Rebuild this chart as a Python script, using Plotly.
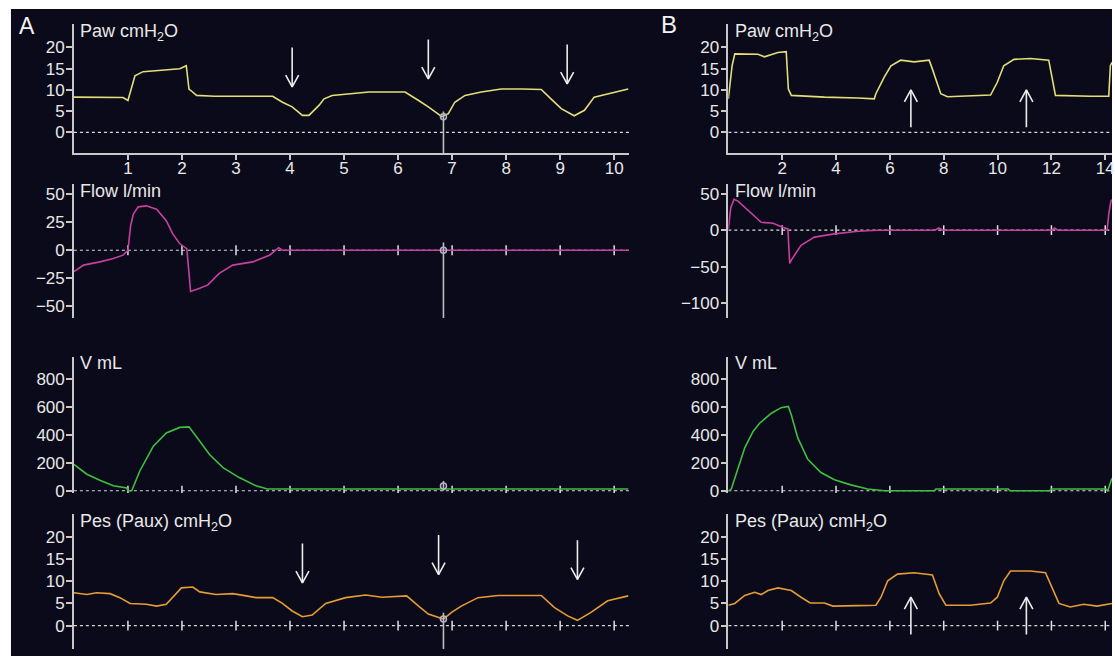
import plotly.graph_objects as go

# reference picture size (all pixel positions below are measured on it)
W, H = 1115, 664
BG = '#0b0a1a'
FG = '#e8e8e8'
AXC = '#c8c8c8'
FONT = 'Liberation Sans, Arial, Helvetica, sans-serif'

# ---------------- data (time in s) ----------------
A_XMAX = 10.28
B_XMAX = 14.25

pawA_t = [0, 0.91, 1.0, 1.07, 1.13, 1.28, 1.71, 1.96, 2.08, 2.13, 2.17, 2.27, 2.6, 3.0, 3.4, 3.68,
          3.86, 4.04, 4.23, 4.35, 4.54, 4.63, 4.78, 5.09, 5.46, 5.8, 6.13, 6.38, 6.56, 6.81, 6.93,
          7.05, 7.24, 7.54, 7.91, 8.3, 8.65, 8.83, 9.02, 9.26, 9.45, 9.63, 9.88, 10.26]
pawA_v = [8.3, 8.2, 7.5, 11.0, 13.3, 14.3, 14.7, 15.0, 15.7, 10.2, 9.8, 8.7, 8.5, 8.5, 8.5, 8.5,
          7.1, 6.0, 4.0, 4.0, 6.4, 7.9, 8.7, 9.1, 9.5, 9.5, 9.5, 7.5, 6.0, 3.7, 4.4,
          7.1, 8.7, 9.5, 10.2, 10.2, 10.1, 7.9, 5.6, 3.9, 5.2, 8.3, 9.1, 10.2]

flowA_t = [0, 0.18, 0.48, 0.73, 0.91, 1.0, 1.05, 1.10, 1.19, 1.34, 1.53, 1.71, 1.83, 1.96, 2.09,
           2.13, 2.16, 2.33, 2.48, 2.69, 2.94, 3.31, 3.62, 3.79, 3.86, 10.26]
flowA_v = [-19.2, -13.3, -10.4, -7.4, -4.4, 0, 22, 32.4, 38.9, 39.8, 36.8, 26.5, 14.7, 5.8, 1.4,
           -23.6, -36.9, -34, -31, -20.7, -13.3, -10.4, -4.4, 2.3, 0, 0]

vA_t = [0, 0.24, 0.48, 0.73, 0.98, 1.0, 1.07, 1.22, 1.47, 1.71, 1.96, 2.13, 2.33, 2.51, 2.76,
        3.06, 3.37, 3.58, 10.26]
vA_v = [188, 118, 75, 35, 19, 0, 0, 141, 318, 412, 452, 456, 353, 259, 165, 94, 35, 12, 12]

pesA_t = [0, 0.24, 0.42, 0.67, 0.85, 1.04, 1.34, 1.53, 1.71, 1.83, 1.99, 2.20, 2.33, 2.63, 2.94,
          3.19, 3.37, 3.68, 3.86, 4.04, 4.23, 4.41, 4.66, 5.03, 5.40, 5.70, 6.16, 6.38, 6.56,
          6.84, 6.99, 7.17, 7.48, 7.85, 8.40, 8.65, 8.89, 9.14, 9.32, 9.57, 9.88, 10.26]
pesA_v = [7.4, 7.0, 7.4, 7.2, 6.3, 5.0, 4.8, 4.4, 4.8, 6.3, 8.5, 8.7, 7.6, 7.0, 7.2,
          6.7, 6.3, 6.3, 5.0, 3.3, 2.0, 2.4, 5.0, 6.3, 6.9, 6.4, 6.7, 4.4, 2.6,
          1.5, 3.0, 4.4, 6.3, 6.8, 6.9, 6.8, 4.1, 2.2, 1.2, 3.0, 5.6, 6.7]

pawB_t = [0, 0.05, 0.14, 0.24, 1.10, 1.34, 1.84, 2.15, 2.23, 2.34, 3.57, 4.81, 5.42, 5.48, 5.79,
          6.04, 6.40, 6.90, 7.46, 7.58, 7.89, 8.14, 9.74, 9.99, 10.23, 10.61, 11.22, 11.90, 12.02,
          12.15, 13.44, 14.13, 14.19, 14.25]
pawB_v = [7.9, 11.0, 15.7, 18.5, 18.4, 17.8, 18.8, 19.0, 10.2, 8.7, 8.3, 8.1, 7.9, 9.1, 13.0,
          15.7, 17.0, 16.6, 17.0, 14.9, 9.1, 8.4, 8.8, 11.8, 15.7, 17.2, 17.4, 17.0, 13.3,
          8.7, 8.5, 8.5, 15.7, 16.5]

flowB_t = [0, 0.09, 0.21, 0.36, 1.22, 1.66, 2.02, 2.21, 2.28, 2.34, 2.70, 3.20, 3.94, 4.81, 5.55,
           7.67, 7.82, 7.97, 12.02, 12.12, 12.23, 14.07, 14.13, 14.21, 14.25]
flowB_v = [1.8, 31, 42.5, 40, 10.9, 9.5, 4.1, 1.8, -45.7, -41, -20.8, -9.5, -5, -1.4, 0,
           0, 3, 0, 0, 3, 0, 0, 22, 40, 42]

vB_t = [0, 0.02, 0.11, 0.36, 0.61, 0.92, 1.16, 1.60, 1.96, 2.23, 2.34, 2.58, 2.95, 3.44, 3.94,
        4.55, 5.17, 5.79, 7.65, 7.71, 10.40, 10.46, 11.94, 12.00, 14.03, 14.09, 14.19, 14.25]
vB_v = [0, 0, 12, 165, 306, 423, 482, 553, 593, 602, 541, 377, 224, 130, 78,
        42, 12, 0, 0, 12, 12, 0, 0, 12, 12, 0, 60, 90]

pesB_t = [0, 0.24, 0.61, 0.98, 1.22, 1.47, 1.84, 2.34, 2.70, 3.04, 3.57, 3.88, 4.81, 5.48, 5.67,
          5.92, 6.28, 6.90, 7.58, 7.83, 8.08, 8.99, 9.74, 9.99, 10.23, 10.48, 11.22, 11.78, 12.02,
          12.28, 12.70, 13.20, 13.69, 14.25]
pesB_v = [4.6, 5.0, 6.8, 7.5, 7.0, 7.9, 8.5, 7.9, 6.4, 5.1, 5.1, 4.4, 4.5, 4.6, 6.4,
          10.1, 11.6, 11.9, 11.4, 7.2, 4.6, 4.6, 5.1, 6.4, 10.1, 12.3, 12.3, 11.9, 8.6,
          5.0, 4.2, 4.8, 4.4, 5.0]

# tick values
xticksA = [1, 2, 3, 4, 5, 6, 7, 8, 9, 10]
xticksB = [2, 4, 6, 8, 10, 12, 14]
paw_ticks = [0, 5, 10, 15, 20]
flowA_ticks = [-50, -25, 0, 25, 50]
flowB_ticks = [-100, -50, 0, 50]
v_ticks = [0, 200, 400, 600, 800]
pes_ticks = [0, 5, 10, 15, 20]

# arrows: time, tail value, tip value
pawA_arrow_t = [4.04, 6.56, 9.13]
pawA_arrow_tail = [20.0, 21.9, 20.7]
pawA_arrow_tip = [10.7, 12.6, 11.4]
pesA_arrow_t = [4.23, 6.75, 9.32]
pesA_arrow_tail = [18.5, 20.4, 19.2]
pesA_arrow_tip = [9.6, 11.5, 10.4]
pawB_arrow_t = [6.78, 11.07]
pawB_arrow_tail = [1.2, 1.2]
pawB_arrow_tip = [10.0, 10.0]
pesB_arrow_t = [6.78, 11.07]
pesB_arrow_tail = [-2.0, -2.0]
pesB_arrow_tip = [6.4, 6.4]

# cursor at t = 6.84 in panel A
cursor_t = 6.84
trigger_t = [0.96, 3.75]

# ---------------- figure ----------------
def dx(a, b):
    return [a / W, min(1.0, b / W)]

def dy(top, bot):
    return [1 - bot / H, 1 - top / H]

XA_PX = (74.1, 631)
XB_PX = (730.3, 1115)
rows = [(24, 155), (186, 322), (361, 499), (520, 657)]

panels = {
    1: dict(xp=XA_PX, xr=[0, A_XMAX], yp=rows[0], yr=[-4.9, 25.6], yt=paw_ticks),
    2: dict(xp=XA_PX, xr=[0, A_XMAX], yp=rows[1], yr=[-60.8, 59.6], yt=flowA_ticks),
    3: dict(xp=XA_PX, xr=[0, A_XMAX], yp=rows[2], yr=[-16, 957], yt=v_ticks),
    4: dict(xp=XA_PX, xr=[0, A_XMAX], yp=rows[3], yr=[-5.27, 25.18], yt=pes_ticks),
    5: dict(xp=XB_PX, xr=[0, B_XMAX], yp=rows[0], yr=[-4.9, 25.6], yt=paw_ticks),
    6: dict(xp=XB_PX, xr=[0, B_XMAX], yp=rows[1], yr=[-120.8, 63.8], yt=flowB_ticks),
    7: dict(xp=XB_PX, xr=[0, B_XMAX], yp=rows[2], yr=[-16, 957], yt=v_ticks),
    8: dict(xp=XB_PX, xr=[0, B_XMAX], yp=rows[3], yr=[-5.27, 25.18], yt=pes_ticks),
}


def ref(i):
    return ('x' if i == 1 else f'x{i}', 'y' if i == 1 else f'y{i}')


def fmt(v):
    return ('\u2212' + str(abs(v))) if v < 0 else str(v)


def upx(i):
    """data units per pixel (x, y) for panel i"""
    p = panels[i]
    ux = (p['xr'][1] - p['xr'][0]) / (p['xp'][1] - p['xp'][0])
    uy = (p['yr'][1] - p['yr'][0]) / (p['yp'][1] - p['yp'][0])
    return ux, uy


layout = dict(
    autosize=True, margin=dict(l=0, r=0, t=0, b=0),
    paper_bgcolor='white', plot_bgcolor='rgba(0,0,0,0)',
    showlegend=False, font=dict(family=FONT, color=FG, size=17),
    shapes=[dict(type='rect', xref='paper', yref='paper', x0=11 / W, x1=1, y0=0,
                 y1=1 - 9 / H, fillcolor=BG, line=dict(width=0), layer='below')],
    annotations=[],
)

for i, p in panels.items():
    xr, yr = ref(i)
    xkey = 'xaxis' if i == 1 else f'xaxis{i}'
    ykey = 'yaxis' if i == 1 else f'yaxis{i}'
    is_paw = i in (1, 5)
    xt = xticksA if i <= 4 else xticksB
    xa = dict(domain=dx(*p['xp']), range=p['xr'], anchor=yr, showgrid=False, zeroline=False,
              fixedrange=True)
    if is_paw:
        xa.update(showline=True, linecolor=AXC, linewidth=1.5, ticks='outside', ticklen=5,
                  tickwidth=1.5, tickcolor=AXC, tickvals=xt, ticktext=[str(v) for v in xt],
                  ticklabelstandoff=-6, ticklabeloverflow='allow',
                  tickfont=dict(size=17, color=FG, family=FONT))
    else:
        xa.update(visible=False)
    layout[xkey] = xa
    layout[ykey] = dict(domain=dy(*p['yp']), range=p['yr'], anchor=xr, showgrid=False,
                        zeroline=False, showline=True, linecolor=AXC, linewidth=1.5,
                        ticks='outside', ticklen=6, tickwidth=1.5, tickcolor=AXC,
                        tickvals=p['yt'], ticktext=[fmt(v) for v in p['yt']],
                        ticklabelstandoff=-2,
                        tickfont=dict(size=17, color=FG, family=FONT), fixedrange=True)

fig = go.Figure()

# dotted zero lines and small ticks on them
for i, p in panels.items():
    xr, yr = ref(i)
    fig.add_trace(go.Scatter(x=[0, p['xr'][1]], y=[0, 0], xaxis=xr, yaxis=yr, mode='lines',
                             line=dict(color='#d8d8d8', width=1.2, dash='dot'), hoverinfo='skip'))
    if i not in (1, 5):
        xt = xticksA if i <= 4 else xticksB
        fig.add_trace(go.Scatter(x=xt, y=[0] * len(xt), xaxis=xr, yaxis=yr, mode='markers',
                                 marker=dict(symbol='line-ns', size=7,
                                             line=dict(color='#e0e0e0', width=1.5)),
                                 hoverinfo='skip'))

series = [
    (1, pawA_t, pawA_v, '#e2de78'),
    (2, flowA_t, flowA_v, '#c8409e'),
    (3, vA_t, vA_v, '#3fbf3f'),
    (4, pesA_t, pesA_v, '#e49c34'),
    (5, pawB_t, pawB_v, '#e2de78'),
    (6, flowB_t, flowB_v, '#c8409e'),
    (7, vB_t, vB_v, '#3fbf3f'),
    (8, pesB_t, pesB_v, '#e49c34'),
]
for i, t, v, c in series:
    xr, yr = ref(i)
    fig.add_trace(go.Scatter(x=t, y=v, xaxis=xr, yaxis=yr, mode='lines',
                             line=dict(color=c, width=1.6)))

# cursor lines in panel A
cursor_spans = {1: (4.9, -4.9), 2: (7, -60.8), 3: (70, 0), 4: (2.9, -5.27)}
cursor_mark = {1: 3.7, 2: 0, 3: 33, 4: 1.5}
for i, (top, bot) in cursor_spans.items():
    xr, yr = ref(i)
    fig.add_trace(go.Scatter(x=[cursor_t, cursor_t], y=[top, bot], xaxis=xr, yaxis=yr,
                             mode='lines', line=dict(color='#bdbdbd', width=1.6),
                             hoverinfo='skip'))
    fig.add_trace(go.Scatter(x=[cursor_t], y=[cursor_mark[i]], xaxis=xr, yaxis=yr,
                             mode='markers', marker=dict(symbol='circle-open', size=6,
                                                         color='#b4b4c4',
                                                         line=dict(width=1.5)),
                             hoverinfo='skip'))

# grey trigger triangles below Paw A axis
fig.add_trace(go.Scatter(x=trigger_t, y=[-7.4, -7.4], xaxis='x', yaxis='y', mode='markers',
                         cliponaxis=False,
                         marker=dict(symbol='triangle-up', size=12, color='#a4a4ac'),
                         hoverinfo='skip'))


# arrows drawn as line traces (shaft + open V head)
def add_arrows(i, ts, tails, tips, head_w=6.5, head_l=12):
    xr, yr = ref(i)
    ux, uy = upx(i)
    xs, ys = [], []
    for t, a, b in zip(ts, tails, tips):
        d = 1 if a > b else -1  # head arms go back toward the tail
        xs += [t, t, None, t - head_w * ux, t, t + head_w * ux, None]
        ys += [a, b, None, b + d * head_l * uy, b, b + d * head_l * uy, None]
    fig.add_trace(go.Scatter(x=xs, y=ys, xaxis=xr, yaxis=yr, mode='lines', cliponaxis=False,
                             line=dict(color='#ececec', width=1.6), hoverinfo='skip'))


add_arrows(1, pawA_arrow_t, pawA_arrow_tail, pawA_arrow_tip)
add_arrows(4, pesA_arrow_t, pesA_arrow_tail, pesA_arrow_tip)
add_arrows(5, pawB_arrow_t, pawB_arrow_tail, pawB_arrow_tip)
add_arrows(8, pesB_arrow_t, pesB_arrow_tail, pesB_arrow_tip)

# panel titles
titles = [('Paw cmH<sub>2</sub>O', 33), ('Flow l/min', 193.5), ('V mL', 367.5),
          ('Pes (Paux) cmH<sub>2</sub>O', 528.5)]
for txt, ypx in titles:
    for xpx in (78, 735):
        layout['annotations'].append(dict(
            x=xpx / W, y=1 - ypx / H, xref='paper', yref='paper', text=txt,
            showarrow=False, xanchor='left', yanchor='middle',
            font=dict(size=18, color=FG, family=FONT)))

layout['annotations'].append(dict(x=27 / W, y=1 - 26 / H, xref='paper', yref='paper', text='A',
                                  showarrow=False, xanchor='center', yanchor='middle',
                                  font=dict(size=23, color='#f2f2f2', family=FONT)))
layout['annotations'].append(dict(x=671 / W, y=1 - 25 / H, xref='paper', yref='paper', text='B',
                                  showarrow=False, xanchor='center', yanchor='middle',
                                  font=dict(size=24, color='#f2f2f2', family=FONT)))

fig.update_layout(**layout)
# the figure fills the whole browser viewport; the body's default margin is removed
fig.write_html('out.html', default_width='100vw', default_height='100vh',
               config=dict(displayModeBar=False, responsive=True),
               post_script="document.body.style.margin='0';"
                           "document.documentElement.style.overflow='hidden';"
                           "document.body.style.overflow='hidden';")
